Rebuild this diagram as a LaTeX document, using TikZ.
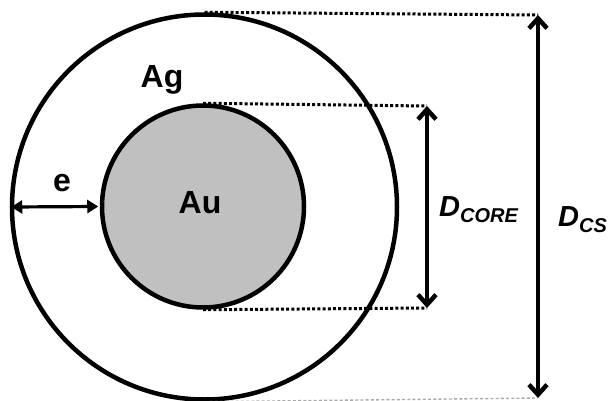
\documentclass[tikz,border=0pt]{standalone}
\usepackage{fontspec}
\setmainfont{Liberation Sans}
\usetikzlibrary{arrows.meta}
\tikzset{
  ring/.style={circle, draw=black, line width=4.5pt, inner sep=0pt},
  dotline/.style={line width=3pt, dash pattern=on 3pt off 2.2pt},
  dimarrow/.style={line width=4.5pt, {Straight Barb[length=10pt,width=18pt,line width=4.5pt]}-{Straight Barb[length=10pt,width=18pt,line width=4.5pt]}},
  earrow/.style={line width=3.2pt, {Triangle[length=11pt,width=13pt]}-{Triangle[length=11pt,width=13pt]}},
  lbl/.style={font=\fontsize{32}{33}\selectfont\bfseries, inner sep=0pt, anchor=base west},
  dlbl/.style={font=\fontsize{29}{30}\selectfont\bfseries\itshape, inner sep=0pt, anchor=base west}
}
\newcommand\subtxt[1]{\raisebox{-6pt}{\fontsize{20}{21}\selectfont #1}}
\begin{document}
\begin{tikzpicture}[x=1pt,y=1pt]
\useasboundingbox (0,0) rectangle (616,400);
\node[ring, minimum size=385pt] (outer) at (204.5,193) {};
\node[ring, fill={rgb,255:red,192;green,192;blue,192}, minimum size=202pt] (inner) at (203,193.5) {};
\coordinate (ctop) at (538,385);
\coordinate (cbot) at (538,2);
\coordinate (itop) at (427,294);
\coordinate (ibot) at (427,92);
\draw[dotline] (outer.north) -- (ctop);
\draw[dotline, draw={rgb,255:red,170;green,170;blue,170}, line width=1.4pt] (outer.south) -- (cbot);
\draw[dotline] (inner.north) -- (itop);
\draw[dotline] (inner.south) -- (ibot);
\draw[dimarrow] (ctop) -- (cbot);
\draw[dimarrow] (itop) -- (ibot);
\draw[earrow] ([xshift=1.5pt]outer.west) -- ([xshift=-1.5pt]inner.west);
\node[lbl] (ag) at (140.5,312.7) {Ag};
\node[lbl] (au) at (178.5,186.7) {Au};
\node[lbl] (e) at (53,209) {e};
\node[dlbl] (dcore) at (439,184) {D\subtxt{CORE}};
\node[dlbl] (dcs) at (558,173.3) {D\subtxt{CS}};
\end{tikzpicture}
\end{document}
